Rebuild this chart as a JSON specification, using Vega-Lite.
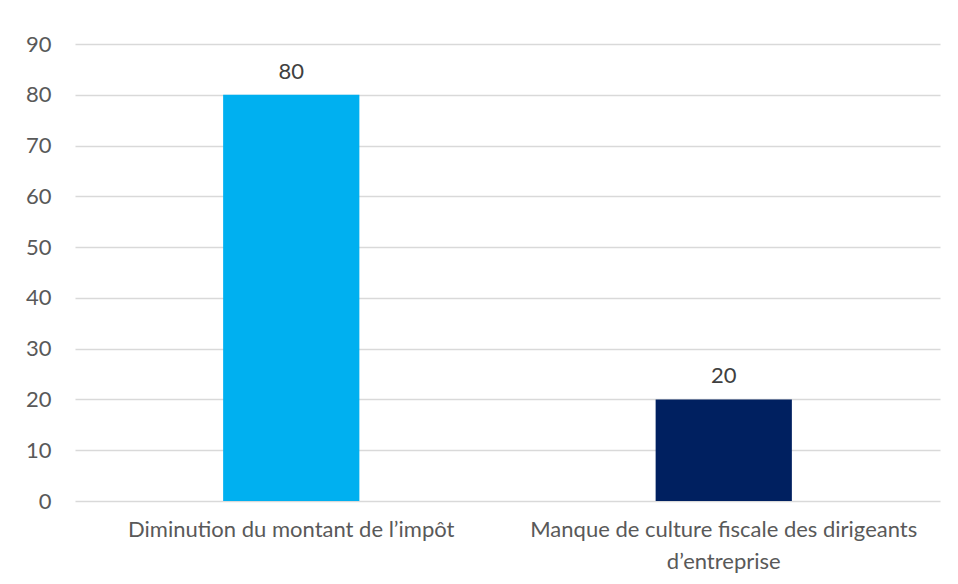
{
  "$schema": "https://vega.github.io/schema/vega-lite/v6.json",
  "autosize": {"type": "none"},
  "padding": {"left": 75, "top": 44, "right": 18, "bottom": 83},
  "width": 865,
  "height": 457,
  "background": "white",
  "config": {
    "view": {"stroke": null},
    "font": "Lato",
    "text": {"font": "Lato"}
  },
  "data": {
    "values": [
      {"cause": "Diminution du montant de l’impôt", "valeur": 80, "couleur": "#00B0F0"},
      {"cause": "Manque de culture fiscale des dirigeants d’entreprise", "valeur": 20, "couleur": "#002060"}
    ]
  },
  "encoding": {
    "x": {
      "field": "cause",
      "type": "nominal",
      "sort": null,
      "scale": {"paddingInner": 0, "paddingOuter": 0},
      "axis": {
        "title": null,
        "labelAngle": 0,
        "domain": false,
        "ticks": false,
        "labelPadding": 18,
        "labelFont": "Lato",
        "labelFontSize": 22,
        "labelColor": "#595959",
        "labelLineHeight": 32,
        "labelLimit": 0,
        "labelExpr": "datum.label == 'Manque de culture fiscale des dirigeants d’entreprise' ? ['Manque de culture fiscale des dirigeants', 'd’entreprise'] : datum.label"
      }
    },
    "y": {
      "field": "valeur",
      "type": "quantitative",
      "scale": {"domain": [0, 90], "nice": false},
      "axis": {
        "title": null,
        "values": [0, 10, 20, 30, 40, 50, 60, 70, 80, 90],
        "domain": false,
        "ticks": false,
        "labelPadding": 24,
        "labelFont": "Lato",
        "labelFontSize": 22,
        "labelColor": "#595959",
        "gridColor": "#D9D9D9",
        "gridWidth": 1.3
      }
    }
  },
  "layer": [
    {
      "mark": {"type": "bar", "width": {"band": 0.315}},
      "encoding": {
        "color": {"field": "couleur", "type": "nominal", "scale": null, "legend": null}
      }
    },
    {
      "mark": {"type": "text", "baseline": "bottom", "dy": -11, "fontSize": 22, "color": "#404040", "font": "Lato"},
      "encoding": {
        "text": {"field": "valeur", "type": "quantitative"}
      }
    }
  ]
}
